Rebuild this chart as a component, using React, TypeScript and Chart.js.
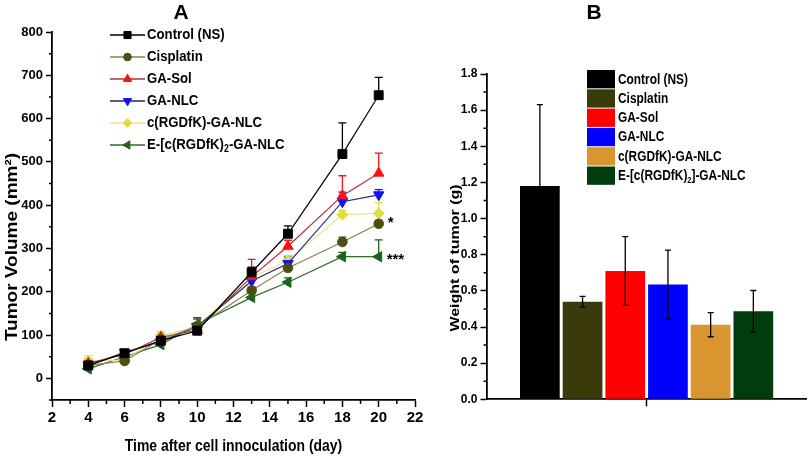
import React, { useEffect, useRef } from 'react';
import { Chart, registerables } from 'chart.js';

Chart.register(...registerables);

const SANS = '"Liberation Sans", Arial, sans-serif';

// ---------------- Panel A: tumor volume over time ----------------
const days = [4, 6, 8, 10, 13, 15, 18, 20];
const seriesLabelsA = ['Control (NS)', 'Cisplatin', 'GA-Sol', 'GA-NLC', 'c(RGDfK)-GA-NLC', 'E-[c(RGDfK)₂-GA-NLC'];

const controlVolume = [30, 58, 87, 110, 245, 334, 518, 654];
const controlErr = [8, 5, 5, 8, 12, 18, 72, 41];
const cisplatinVolume = [30, 40, 90, 120, 203, 255, 315, 357];
const cisplatinErr = [5, 5, 5, 5, 8, 8, 11, 8];
const gaSolVolume = [35, 55, 95, 112, 235, 305, 422, 474];
const gaSolErr = [10, 5, 8, 25, 40, 14, 46, 46];
const gaNlcVolume = [30, 60, 85, 120, 225, 265, 408, 424];
const gaNlcErr = [5, 5, 5, 5, 10, 15, 22, 12];
const rgdNlcVolume = [40, 42, 98, 120, 233, 272, 378, 381];
const rgdNlcErr = [12, 5, 10, 8, 10, 12, 10, 25];
const dimerNlcVolume = [22, 50, 78, 125, 187, 222, 281, 281];
const dimerNlcErr = [5, 5, 5, 15, 10, 10, 10, 39];

const seriesValuesA = [controlVolume, cisplatinVolume, gaSolVolume, gaNlcVolume, rgdNlcVolume, dimerNlcVolume];
const seriesErrA = [controlErr, cisplatinErr, gaSolErr, gaNlcErr, rgdNlcErr, dimerNlcErr];

const lineColorsA = ['#000000', '#858540', '#b0303c', '#25257a', '#e6e69a', '#2f6a2f'];
const markerColorsA = ['#000000', '#4e4e12', '#ff1010', '#1010ff', '#e4dc3c', '#1b651b'];
const markerStylesA = ['rect', 'circle', 'triangle', 'triangle', 'rectRot', 'triangle'];
const markerRotA = [0, 0, 0, 180, 0, 270];
const markerSizeA = [6.3, 4.8, 6, 6, 5.5, 6];

const starLabels = ['*', '***'];
const starX = [20.5, 20.44];
const starY = [369, 284];

// ---------------- Panel B: tumor weight ----------------
const groupLabelsB = ['Control (NS)', 'Cisplatin', 'GA-Sol', 'GA-NLC', 'c(RGDfK)-GA-NLC', 'E-[c(RGDfK)₂]-GA-NLC'];
const tumorWeight = [1.18, 0.54, 0.71, 0.635, 0.413, 0.487];
const tumorWeightErr = [0.45, 0.03, 0.19, 0.19, 0.067, 0.115];
const barColorsB = ['#000000', '#3b3a0b', '#ff0000', '#0000ff', '#d9952f', '#003c0c'];

// ---------------- helpers ----------------
function drawMarker(ctx: CanvasRenderingContext2D, style: string, rot: number, x: number, y: number, r: number, color: string) {
  ctx.save();
  ctx.translate(x, y);
  ctx.rotate((rot * Math.PI) / 180);
  ctx.beginPath();
  if (style === 'circle') {
    ctx.arc(0, 0, r, 0, Math.PI * 2);
  } else if (style === 'rect') {
    const s = r * Math.SQRT1_2;
    ctx.rect(-s, -s, 2 * s, 2 * s);
  } else if (style === 'rectRot') {
    ctx.moveTo(-r, 0); ctx.lineTo(0, -r); ctx.lineTo(r, 0); ctx.lineTo(0, r); ctx.closePath();
  } else {
    let a = 0;
    ctx.moveTo(Math.sin(a) * r, -Math.cos(a) * r);
    a += (2 * Math.PI) / 3;
    ctx.lineTo(Math.sin(a) * r, -Math.cos(a) * r);
    a += (2 * Math.PI) / 3;
    ctx.lineTo(Math.sin(a) * r, -Math.cos(a) * r);
    ctx.closePath();
  }
  ctx.fillStyle = color;
  ctx.strokeStyle = color;
  ctx.lineWidth = 1;
  ctx.fill();
  ctx.stroke();
  ctx.restore();
}

// text with "₂" rendered as a real lowered small 2, horizontally condensed by hs
function drawRich(ctx: CanvasRenderingContext2D, text: string, x: number, y: number, size: number, hs: number) {
  const parts = text.split('₂');
  ctx.save();
  ctx.translate(x, y);
  ctx.scale(hs, 1);
  let cx = 0;
  ctx.fillStyle = '#000';
  ctx.textAlign = 'left';
  ctx.textBaseline = 'middle';
  parts.forEach((p, k) => {
    ctx.font = `bold ${size}px ${SANS}`;
    ctx.fillText(p, cx, 0);
    cx += ctx.measureText(p).width;
    if (k < parts.length - 1) {
      ctx.font = `bold ${Math.round(size * 0.65)}px ${SANS}`;
      ctx.fillText('2', cx, size * 0.3);
      cx += ctx.measureText('2').width;
    }
  });
  ctx.restore();
}

function drawRotated(ctx: CanvasRenderingContext2D, text: string, x: number, y: number, size: number, squish: number) {
  ctx.save();
  ctx.translate(x, y);
  ctx.rotate(-Math.PI / 2);
  ctx.scale(1, squish);
  ctx.font = `bold ${size}px ${SANS}`;
  ctx.fillStyle = '#000';
  ctx.textAlign = 'center';
  ctx.textBaseline = 'middle';
  ctx.fillText(text, 0, 0);
  ctx.restore();
}

function drawCondensed(ctx: CanvasRenderingContext2D, text: string, x: number, y: number, size: number, hs: number) {
  ctx.save();
  ctx.translate(x, y);
  ctx.scale(hs, 1);
  ctx.font = `bold ${size}px ${SANS}`;
  ctx.fillStyle = '#000';
  ctx.textAlign = 'center';
  ctx.textBaseline = 'middle';
  ctx.fillText(text, 0, 0);
  ctx.restore();
}

const minorTicksPlugin = {
  id: 'minorTicks',
  afterDraw(chart: any, _args: any, opts: any) {
    const { ctx } = chart;
    (opts.axes || []).forEach((a: any) => {
      const scale = chart.scales[a.id];
      ctx.save();
      ctx.strokeStyle = '#000';
      ctx.lineWidth = 1.5;
      ctx.beginPath();
      for (let v = a.from; v <= a.to + 1e-9; v += a.step) {
        const p = scale.getPixelForValue(v);
        if (scale.isHorizontal()) {
          ctx.moveTo(p, scale.top);
          ctx.lineTo(p, scale.top + a.len);
        } else {
          ctx.moveTo(scale.right, p);
          ctx.lineTo(scale.right - a.len, p);
        }
      }
      ctx.stroke();
      ctx.restore();
    });
  },
};

const decorAPlugin = {
  id: 'decorA',
  beforeDatasetsDraw(chart: any) {
    const { ctx } = chart;
    const ys = chart.scales.y;
    chart.data.datasets.forEach((_ds: any, i: number) => {
      const meta = chart.getDatasetMeta(i);
      ctx.save();
      ctx.strokeStyle = markerColorsA[i];
      ctx.lineWidth = 1.3;
      meta.data.forEach((pt: any, j: number) => {
        const y1 = ys.getPixelForValue(seriesValuesA[i][j] + seriesErrA[i][j]);
        ctx.beginPath();
        ctx.moveTo(pt.x, pt.y);
        ctx.lineTo(pt.x, y1);
        ctx.moveTo(pt.x - 4, y1);
        ctx.lineTo(pt.x + 4, y1);
        ctx.stroke();
      });
      ctx.restore();
    });
  },
  afterDraw(chart: any) {
    const { ctx } = chart;
    const xs = chart.scales.x;
    const ys = chart.scales.y;
    // panel letter
    ctx.save();
    ctx.fillStyle = '#000';
    ctx.font = `bold 21px ${SANS}`;
    ctx.textAlign = 'center';
    ctx.textBaseline = 'middle';
    ctx.fillText('A', 181, 13);
    ctx.restore();
    // axis titles
    drawRotated(ctx, 'Tumor Volume (mm²)', 13, 247, 19, 0.85);
    drawCondensed(ctx, 'Time after cell innoculation (day)', (xs.left + xs.right) / 2, 446, 17, 0.82);
    // legend
    seriesLabelsA.forEach((lab, i) => {
      const y = 35 + i * 22;
      ctx.save();
      ctx.strokeStyle = lineColorsA[i];
      ctx.lineWidth = 1.5;
      ctx.beginPath();
      ctx.moveTo(110, y);
      ctx.lineTo(145, y);
      ctx.stroke();
      drawMarker(ctx, markerStylesA[i], markerRotA[i], 127.5, y, markerSizeA[i] * 0.8, markerColorsA[i]);
      drawRich(ctx, lab, 147, y, 15, 0.88);
      ctx.restore();
    });
    // significance marks
    ctx.save();
    ctx.fillStyle = '#000';
    ctx.font = `bold 15px ${SANS}`;
    ctx.textAlign = 'left';
    ctx.textBaseline = 'alphabetic';
    starLabels.forEach((s, k) => {
      ctx.fillText(s, xs.getPixelForValue(starX[k]), ys.getPixelForValue(starY[k]) + 0.57 * 15);
    });
    ctx.restore();
  },
};

const decorBPlugin = {
  id: 'decorB',
  afterDatasetsDraw(chart: any) {
    const { ctx } = chart;
    const ys = chart.scales.y;
    chart.data.datasets.forEach((_ds: any, i: number) => {
      const bar = chart.getDatasetMeta(i).data[0];
      const yt = ys.getPixelForValue(tumorWeight[i] + tumorWeightErr[i]);
      const yb = ys.getPixelForValue(tumorWeight[i] - tumorWeightErr[i]);
      ctx.save();
      ctx.strokeStyle = '#000';
      ctx.lineWidth = 1.3;
      ctx.beginPath();
      ctx.moveTo(bar.x, yt);
      ctx.lineTo(bar.x, yb);
      ctx.moveTo(bar.x - 3, yt);
      ctx.lineTo(bar.x + 3, yt);
      ctx.moveTo(bar.x - 3, yb);
      ctx.lineTo(bar.x + 3, yb);
      ctx.stroke();
      ctx.restore();
    });
  },
  afterDraw(chart: any) {
    const { ctx } = chart;
    ctx.save();
    ctx.fillStyle = '#000';
    ctx.font = `bold 21px ${SANS}`;
    ctx.textAlign = 'center';
    ctx.textBaseline = 'middle';
    ctx.fillText('B', 154, 13);
    ctx.restore();
    drawRotated(ctx, 'Weight of tumor (g)', 15.5, 258, 16, 0.8);
    groupLabelsB.forEach((lab, i) => {
      const top = 70 + i * 19.3;
      ctx.save();
      ctx.fillStyle = barColorsB[i];
      ctx.fillRect(147, top, 28, 18.3);
      drawRich(ctx, lab, 178, top + 9.5, 14.5, 0.82);
      ctx.restore();
    });
  },
};

const tickFont = (size: number) => ({ family: SANS, size, weight: 'bold' as const });

export default function App() {
  const refA = useRef<HTMLCanvasElement>(null);
  const refB = useRef<HTMLCanvasElement>(null);

  useEffect(() => {
    const datasetsA = seriesLabelsA.map((label, i) => ({
      label,
      data: days.map((d, j) => ({ x: d, y: seriesValuesA[i][j] })),
      borderColor: lineColorsA[i],
      backgroundColor: markerColorsA[i],
      borderWidth: 1.2,
      pointStyle: markerStylesA[i],
      pointRotation: markerRotA[i],
      pointRadius: markerSizeA[i],
      pointBackgroundColor: markerColorsA[i],
      pointBorderColor: markerColorsA[i],
      pointBorderWidth: 1,
      tension: 0,
    }));

    const chartA = new Chart(refA.current as HTMLCanvasElement, {
      type: 'line',
      data: { datasets: datasetsA as any },
      plugins: [decorAPlugin as any, minorTicksPlugin as any],
      options: {
        animation: false,
        responsive: false,
        layout: { padding: { left: 0, right: 25, top: 32, bottom: 0 } },
        plugins: {
          legend: { display: false },
          tooltip: { enabled: false },
          minorTicks: {
            axes: [
              { id: 'y', from: -50, to: 750, step: 100, len: 3 },
              { id: 'x', from: 3, to: 21, step: 2, len: 4 },
            ],
          },
        } as any,
        scales: {
          x: {
            type: 'linear',
            min: 2,
            max: 22,
            ticks: { stepSize: 2, font: tickFont(15), color: '#000', padding: 2, maxRotation: 0, autoSkip: false },
            grid: { drawOnChartArea: false, drawTicks: true, tickLength: 7, tickColor: '#000', tickWidth: 1.5 },
            border: { display: true, color: '#000', width: 1.8 },
            afterFit: (s: any) => { s.height = 65; },
          },
          y: {
            type: 'linear',
            min: -50,
            max: 800,
            ticks: { stepSize: 100, font: tickFont(13), color: '#000', padding: 3 },
            afterBuildTicks: (s: any) => { s.ticks = s.ticks.filter((t: any) => t.value >= 0 && t.value % 100 === 0); },
            grid: { drawOnChartArea: false, drawTicks: true, tickLength: 6, tickColor: '#000', tickWidth: 1.5 },
            border: { display: true, color: '#000', width: 1.8 },
            afterFit: (s: any) => { s.width = 52; },
          },
        },
      } as any,
    });

    const datasetsB = groupLabelsB.map((label, i) => ({
      label,
      data: [tumorWeight[i]],
      backgroundColor: barColorsB[i],
      borderWidth: 0,
      categoryPercentage: 0.8,
      barPercentage: 0.93,
    }));

    const chartB = new Chart(refB.current as HTMLCanvasElement, {
      type: 'bar',
      data: { labels: [''], datasets: datasetsB },
      plugins: [decorBPlugin as any, minorTicksPlugin as any],
      options: {
        animation: false,
        responsive: false,
        layout: { padding: { left: 0, right: 3.3, top: 74, bottom: 55.7 } },
        plugins: {
          legend: { display: false },
          tooltip: { enabled: false },
          minorTicks: { axes: [{ id: 'y', from: 0.1, to: 1.7, step: 0.2, len: 3 }] },
        } as any,
        scales: {
          x: {
            grid: { offset: false, drawOnChartArea: false, drawTicks: true, tickLength: 7, tickColor: '#000', tickWidth: 1.5 },
            border: { display: true, color: '#000', width: 1.8 },
            ticks: { display: true },
            afterFit: (s: any) => { s.height = 10; },
          },
          y: {
            min: 0,
            max: 1.8,
            ticks: { stepSize: 0.2, font: tickFont(12), color: '#000', padding: 3, callback: (v: any) => Number(v).toFixed(1) },
            grid: { drawOnChartArea: false, drawTicks: true, tickLength: 6, tickColor: '#000', tickWidth: 1.5 },
            border: { display: true, color: '#000', width: 1.8 },
            afterFit: (s: any) => { s.width = 46.5; },
          },
        },
      } as any,
    });

    return () => {
      chartA.destroy();
      chartB.destroy();
    };
  }, []);

  return (
    <div style={{ position: 'absolute', left: 0, top: 0, width: 810, height: 465, background: '#fff' }}>
      <canvas ref={refA} width={440} height={465} style={{ position: 'absolute', left: 0, top: 0, display: 'block' }} />
      <canvas ref={refB} width={370} height={465} style={{ position: 'absolute', left: 440, top: 0, display: 'block' }} />
    </div>
  );
}
